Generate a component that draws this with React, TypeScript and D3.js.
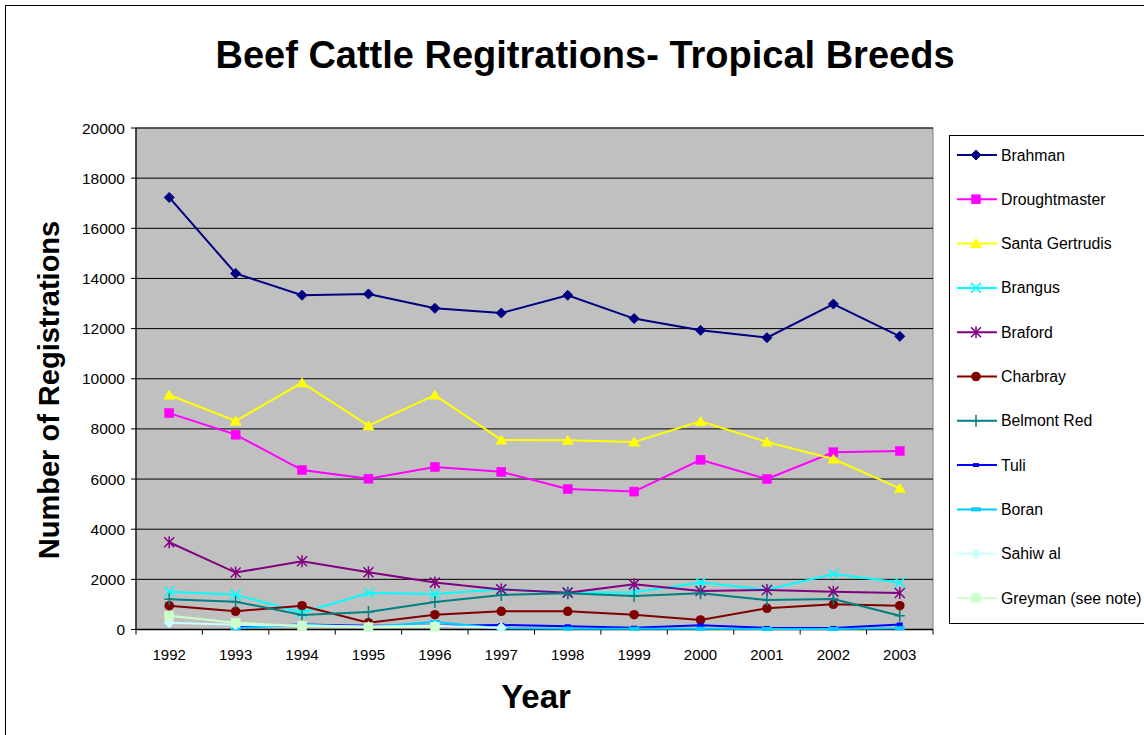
import React from "react";
import * as d3 from "d3";

const years = ["1992","1993","1994","1995","1996","1997","1998","1999","2000","2001","2002","2003"];
const yTicks = [0,2000,4000,6000,8000,10000,12000,14000,16000,18000,20000];

const brahman = [17230,14200,13330,13380,12810,12620,13330,12400,11930,11640,12980,11690];
const droughtmaster = [8630,7770,6360,6015,6480,6290,5600,5500,6770,6000,7070,7120];
const santaGertrudis = [9350,8315,9840,8130,9350,7560,7545,7480,8300,7480,6800,5630];
const brangus = [1510,1390,670,1455,1415,1610,1470,1485,1870,1590,2210,1870];
const braford = [3480,2270,2720,2280,1870,1600,1470,1800,1535,1575,1510,1455];
const charbray = [950,725,950,270,590,725,725,590,380,845,1005,950];
const belmontRed = [1205,1110,580,700,1095,1375,1445,1335,1445,1175,1215,550];
const tuli = [null,100,200,150,150,180,130,70,170,60,60,200];
const boran = [null,50,200,100,300,50,30,30,30,20,20,50];
const sahiwal = [270,190,160,120,150,70,null,null,null,null,null,null];
const greyman = [550,270,140,90,110,null,null,null,null,null,null,null];

type Marker = "diamond"|"square"|"triangle"|"x"|"star"|"circle"|"plus"|"dash"|"longdash";
interface Series { name: string; values: (number|null)[]; color: string; marker: Marker; }

const series: Series[] = [
  { name: "Brahman", values: brahman, color: "#000080", marker: "diamond" },
  { name: "Droughtmaster", values: droughtmaster, color: "#FF00FF", marker: "square" },
  { name: "Santa Gertrudis", values: santaGertrudis, color: "#FFFF00", marker: "triangle" },
  { name: "Brangus", values: brangus, color: "#00FFFF", marker: "x" },
  { name: "Braford", values: braford, color: "#800080", marker: "star" },
  { name: "Charbray", values: charbray, color: "#800000", marker: "circle" },
  { name: "Belmont Red", values: belmontRed, color: "#008080", marker: "plus" },
  { name: "Tuli", values: tuli, color: "#0000FF", marker: "dash" },
  { name: "Boran", values: boran, color: "#00CCFF", marker: "longdash" },
  { name: "Sahiw al", values: sahiwal, color: "#CCFFFF", marker: "diamond" },
  { name: "Greyman (see note)", values: greyman, color: "#CCFFCC", marker: "square" },
];

const plot = { left: 136, right: 933, top: 128, bottom: 629.5 };
const font = "Liberation Sans, Arial, Helvetica, sans-serif";

function MarkerShape({ type, x, y, color }: { type: Marker; x: number; y: number; color: string }) {
  const s = 5;
  switch (type) {
    case "diamond":
      return <path d={`M${x},${y - s} L${x + s},${y} L${x},${y + s} L${x - s},${y} Z`} fill={color} stroke={color} strokeWidth={1} />;
    case "square":
      return <rect x={x - 4.5} y={y - 4.5} width={9} height={9} fill={color} stroke={color} strokeWidth={0.5} />;
    case "triangle":
      return <path d={`M${x},${y - 5.5} L${x + 6},${y + 4.5} L${x - 6},${y + 4.5} Z`} fill={color} />;
    case "circle":
      return <circle cx={x} cy={y} r={4.8} fill={color} />;
    case "x":
      return <path d={`M${x - 5},${y - 5} L${x + 5},${y + 5} M${x - 5},${y + 5} L${x + 5},${y - 5}`} stroke={color} strokeWidth={1.5} fill="none" />;
    case "star":
      return <path d={`M${x - 5},${y - 5} L${x + 5},${y + 5} M${x - 5},${y + 5} L${x + 5},${y - 5} M${x},${y - 6} L${x},${y + 6}`} stroke={color} strokeWidth={1.5} fill="none" />;
    case "plus":
      return <path d={`M${x - 5},${y} L${x + 5},${y} M${x},${y - 6} L${x},${y + 6}`} stroke={color} strokeWidth={1.5} fill="none" />;
    case "dash":
      return <rect x={x - 3} y={y - 2} width={6} height={4} fill={color} />;
    case "longdash":
      return <rect x={x - 5} y={y - 2} width={10} height={4} fill={color} />;
  }
}

export default function App() {
  const x = d3.scaleBand<string>().domain(years).range([plot.left, plot.right]).padding(0);
  const cx = (yr: string) => (x(yr) as number) + x.bandwidth() / 2;
  const y = d3.scaleLinear().domain([0, 20000]).range([plot.bottom, plot.top]);

  const lineGen = d3
    .line<{ yr: string; v: number | null }>()
    .defined((d) => d.v !== null)
    .x((d) => cx(d.yr))
    .y((d) => y(d.v as number));

  const legendX = 949;
  const legendTop = 135;
  const legendStep = 44.3;
  const legendFirst = 155;

  return (
    <svg width={1144} height={735} style={{ position: "absolute", left: 0, top: 0, background: "#fff" }} fontFamily={font}>
      <rect x={5.5} y={5.5} width={1200} height={800} fill="#fff" stroke="#000" strokeWidth={1} />
      <text x={585} y={68} textAnchor="middle" fontSize={38} fontWeight="bold" fill="#000">
        Beef Cattle Regitrations- Tropical Breeds
      </text>

      {/* plot area */}
      <rect x={plot.left} y={plot.top} width={plot.right - plot.left} height={plot.bottom - plot.top} fill="#C0C0C0" stroke="#808080" strokeWidth={1} />
      {yTicks.filter((t) => t > 0).map((t) => (
        <line key={t} x1={plot.left} x2={plot.right} y1={y(t)} y2={y(t)} stroke="#000" strokeWidth={1} />
      ))}
      {/* y axis */}
      <line x1={plot.left} x2={plot.left} y1={plot.top} y2={plot.bottom} stroke="#000" strokeWidth={1.2} />
      {yTicks.map((t) => (
        <g key={"yt" + t}>
          <line x1={plot.left - 5} x2={plot.left} y1={y(t)} y2={y(t)} stroke="#000" />
          <text x={plot.left - 11} y={y(t) + 5.5} textAnchor="end" fontSize={15.5} fill="#000">{t}</text>
        </g>
      ))}
      {/* x axis */}
      <line x1={plot.left} x2={plot.right} y1={plot.bottom} y2={plot.bottom} stroke="#000" strokeWidth={1.5} />
      {years.map((yr) => (
        <line key={"xt" + yr} x1={x(yr) as number} x2={x(yr) as number} y1={plot.bottom} y2={plot.bottom + 5} stroke="#000" />
      ))}
      <line x1={plot.right} x2={plot.right} y1={plot.bottom} y2={plot.bottom + 5} stroke="#000" />
      {years.map((yr) => (
        <text key={"xl" + yr} x={cx(yr)} y={660} textAnchor="middle" fontSize={15} fill="#000">{yr}</text>
      ))}

      {/* series */}
      {series.map((s) => {
        const pts = years.map((yr, i) => ({ yr, v: s.values[i] }));
        return (
          <g key={s.name}>
            <path d={lineGen(pts) || ""} fill="none" stroke={s.color} strokeWidth={2} />
            {pts.filter((p) => p.v !== null).map((p) => (
              <MarkerShape key={p.yr} type={s.marker} x={cx(p.yr)} y={y(p.v as number)} color={s.color} />
            ))}
          </g>
        );
      })}

      {/* axis titles */}
      <text x={536} y={708} textAnchor="middle" fontSize={33} fontWeight="bold" fill="#000">Year</text>
      <text transform={`translate(59,390) rotate(-90)`} textAnchor="middle" fontSize={29} fontWeight="bold" fill="#000">
        Number of Registrations
      </text>

      {/* legend */}
      <rect x={legendX + 0.5} y={legendTop + 0.5} width={250} height={488} fill="#fff" stroke="#000" strokeWidth={1} />
      {series.map((s, i) => {
        const ly = legendFirst + i * legendStep;
        return (
          <g key={"lg" + s.name}>
            <line x1={957} x2={997} y1={ly} y2={ly} stroke={s.color} strokeWidth={2} />
            <MarkerShape type={s.marker} x={976} y={ly} color={s.color} />
            <text x={1001} y={ly + 5.5} fontSize={15.8} fill="#000">{s.name}</text>
          </g>
        );
      })}
    </svg>
  );
}
